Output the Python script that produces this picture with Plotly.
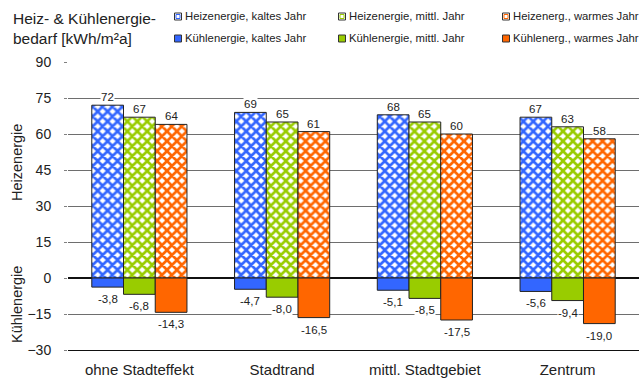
import plotly.graph_objects as go

# Gebiete (Kategorien)
categories = ["ohne Stadteffekt", "Stadtrand", "mittl. Stadtgebiet", "Zentrum"]

# Heizenergiebedarf [kWh/m²a]
heat_cold = [72, 69, 68, 67]
heat_mid = [67, 65, 65, 63]
heat_warm = [64, 61, 60, 58]

# Kühlenergiebedarf [kWh/m²a] (negativ aufgetragen)
cool_cold = [-3.8, -4.7, -5.1, -5.6]
cool_mid = [-6.8, -8.0, -8.5, -9.4]
cool_warm = [-14.3, -16.5, -17.5, -19.0]

heat_names = ["Heizenergie, kaltes Jahr", "Heizenergie, mittl. Jahr", "Heizenerg., warmes Jahr"]
cool_names = ["Kühlenergie, kaltes Jahr", "Kühlenergie, mittl. Jahr", "Kühlenerg., warmes Jahr"]

y_ticks = [-30, -15, 0, 15, 30, 45, 60, 75, 90]

colors = ["#3366FF", "#99CC00", "#FF6600"]
FONT = "Arial, Liberation Sans, sans-serif"

W, H = 639, 385
ML, MR, MT, MB = 68, 0, 62, 35
PW, PH = W - ML - MR, H - MT - MB


def px(x):
    return (x - ML) / PW


def py(y):
    return (H - MB - y) / PH


heat = [heat_cold, heat_mid, heat_warm]
cool = [cool_cold, cool_mid, cool_warm]

fig = go.Figure()
for k in range(3):
    fig.add_trace(go.Bar(
        x=categories, y=heat[k], name=heat_names[k], offsetgroup=str(k),
        marker=dict(
            color="white",
            line=dict(color="#222222", width=1),
            pattern=dict(shape="x", fgcolor=colors[k], bgcolor="white",
                         size=7, solidity=0.62, fillmode="replace"),
        ),
        showlegend=False,
    ))
for k in range(3):
    fig.add_trace(go.Bar(
        x=categories, y=cool[k], name=cool_names[k], offsetgroup=str(k),
        marker=dict(color=colors[k], line=dict(color="#222222", width=1)),
        showlegend=False,
    ))

# Wertebeschriftungen
bar_w = (2 / 3) / 3
annotations = []
for k in range(3):
    for i in range(len(categories)):
        xpos = i + (k - 1) * bar_w
        annotations.append(dict(
            x=xpos, y=heat[k][i], xref="x", yref="y", text=f"{heat[k][i]:d}",
            showarrow=False, yanchor="bottom", yshift=1, bgcolor="white", borderpad=0,
            font=dict(family=FONT, size=11.5, color="#222222"),
        ))
        annotations.append(dict(
            x=xpos, y=cool[k][i], xref="x", yref="y",
            text=f"{cool[k][i]:.1f}".replace(".", ","),
            showarrow=False, yanchor="top", yshift=-5, bgcolor="white", borderpad=0,
            font=dict(family=FONT, size=11.5, color="#222222"),
        ))

# Titel und Achsenbeschriftungen
annotations.append(dict(
    x=px(11), y=py(8), xref="paper", yref="paper", xanchor="left", yanchor="top",
    text="Heiz- & Kühlenergie-<br>bedarf [kWh/m²a]", align="left", showarrow=False,
    font=dict(family=FONT, size=15.5, color="#222222"),
))
annotations.append(dict(
    x=px(17), y=py(163), xref="paper", yref="paper", xanchor="center", yanchor="middle",
    text="Heizenergie", textangle=-90,
    showarrow=False, font=dict(family=FONT, size=14.5, color="#222222"),
))
annotations.append(dict(
    x=px(17), y=py(305), xref="paper", yref="paper", xanchor="center", yanchor="middle",
    text="Kühlenergie", textangle=-90,
    showarrow=False, font=dict(family=FONT, size=14.5, color="#222222"),
))

# Legende
shapes = []
col_x = [178, 342, 506]
row_y = [16.5, 38.5]
for row, names in enumerate([heat_names, cool_names]):
    for k in range(3):
        cx, cy = col_x[k], row_y[row]
        if row == 0:
            shapes.append(dict(type="rect", xref="paper", yref="paper",
                               x0=px(cx - 3.5), x1=px(cx + 3.5), y0=py(cy + 3.5), y1=py(cy - 3.5),
                               fillcolor="white", line=dict(color="#333333", width=1)))
            shapes.append(dict(type="rect", xref="paper", yref="paper",
                               x0=px(cx - 2), x1=px(cx + 2), y0=py(cy + 2), y1=py(cy - 2),
                               fillcolor="white", line=dict(color=colors[k], width=1)))
        else:
            shapes.append(dict(type="rect", xref="paper", yref="paper",
                               x0=px(cx - 3.5), x1=px(cx + 3.5), y0=py(cy + 3.5), y1=py(cy - 3.5),
                               fillcolor=colors[k], line=dict(color="#333333", width=1)))
        annotations.append(dict(
            x=px(cx + 5), y=py(cy), xref="paper", yref="paper", xanchor="left",
            yanchor="middle", text=names[k], showarrow=False,
            font=dict(family=FONT, size=11.3, color="#222222"),
        ))

fig.update_layout(
    width=W, height=H,
    margin=dict(l=ML, r=MR, t=MT, b=MB),
    paper_bgcolor="white", plot_bgcolor="white",
    barmode="group", bargap=1 / 3, bargroupgap=0,
    annotations=annotations, shapes=shapes,
    font=dict(family=FONT, color="#222222"),
    xaxis=dict(
        type="category", categoryarray=categories, range=[-0.5, 3.5],
        showgrid=False, ticks="", showline=True, linecolor="#111111", linewidth=1,
        tickfont=dict(family=FONT, size=15, color="#222222"), ticklabelstandoff=6,
    ),
    xaxis2=dict(
        overlaying="x", anchor="free", position=0.25, range=[-0.5, 3.5],
        tickvals=[-0.5, 0.5, 1.5, 2.5], ticks="outside", ticklen=3, tickcolor="#111111",
        showticklabels=False, showgrid=False, showline=False, zeroline=False,
    ),
    yaxis=dict(
        range=[-30, 90], tickvals=y_ticks, showgrid=True, gridcolor="#6E6E6E", gridwidth=1,
        zeroline=True, zerolinecolor="#111111", zerolinewidth=1.5,
        ticks="outside", ticklen=3, tickcolor="#808080", showline=False,
        tickfont=dict(family=FONT, size=14, color="#222222"), ticklabelstandoff=10,
    ),
)

fig.write_html("out.html")
